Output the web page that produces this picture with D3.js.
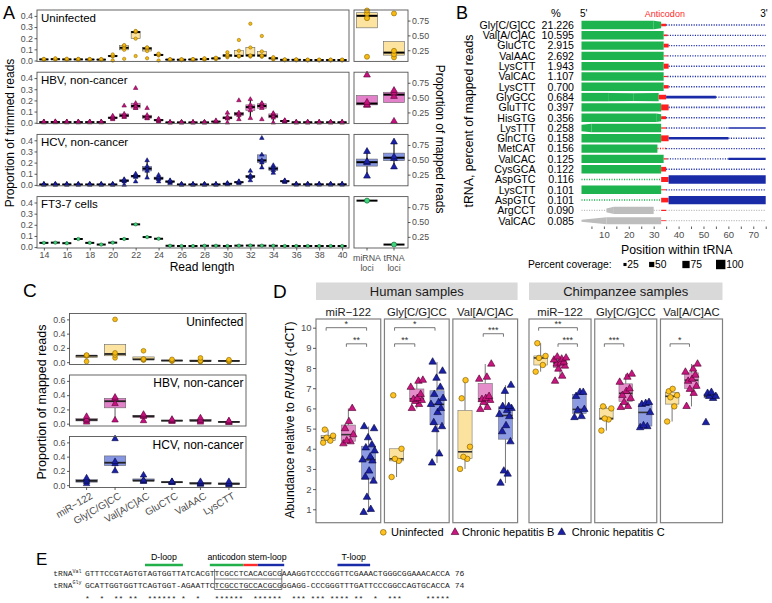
<!DOCTYPE html>
<html>
<head>
<meta charset="utf-8">
<script src="https://cdn.jsdelivr.net/npm/d3@7/dist/d3.min.js"></script>
<style>
html,body{margin:0;padding:0;background:#fff;}
svg{display:block;}
</style>
</head>
<body>
<svg id="fig" width="772" height="603"></svg>
<script>
// ================= DATA =================
// ---- Panel A ----
const readLengths=[14,15,16,17,18,19,20,21,22,23,24,25,26,27,28,29,30,31,32,33,34,35,36,37,38,39,40];
const readTicks=[14,16,18,20,22,24,26,28,30,32,34,36,38,40];
const propTicksA=[0,0.1,0.2,0.3,0.4];
const lociTicks=[0.25,0.5,0.75];
const lociCats=["miRNA loci","tRNA loci"];
const facetNamesA=["Uninfected","HBV, non-cancer","HCV, non-cancer","FT3-7 cells"];
const uninfA=[
[0.005,0.008,0.01,0.012,0.015],[0.006,0.01,0.012,0.015,0.02],[0.005,0.008,0.01,0.012,0.016],
[0.004,0.008,0.01,0.012,0.015],[0.004,0.007,0.009,0.011,0.014],[0.004,0.006,0.008,0.01,0.013],
[0.0,0.035,0.04,0.045,0.055],[0.015,0.096,0.114,0.135,0.138],[0.04,0.196,0.255,0.262,0.265],
[0.02,0.085,0.108,0.115,0.118],[0.0,0.045,0.05,0.055,0.062],[0.003,0.006,0.008,0.01,0.012],
[0.003,0.005,0.007,0.009,0.011],[0.004,0.007,0.009,0.011,0.013],[0.005,0.01,0.013,0.016,0.02],
[0.012,0.016,0.019,0.022,0.025],[0.028,0.038,0.045,0.052,0.074],[0.035,0.039,0.042,0.088,0.184],
[0.035,0.04,0.046,0.117,0.33],[0.033,0.038,0.045,0.082,0.22],[0.008,0.015,0.02,0.024,0.03],
[0.002,0.004,0.006,0.008,0.01],[0.002,0.004,0.006,0.008,0.01],[0.001,0.003,0.004,0.006,0.008],
[0.001,0.003,0.004,0.006,0.008],[0.001,0.003,0.004,0.006,0.008],[0.001,0.003,0.004,0.006,0.008]];
const hbvA=[
[0.002,0.004,0.005,0.007,0.01],[0.003,0.005,0.006,0.008,0.012],[0.002,0.004,0.005,0.007,0.01],
[0.002,0.004,0.005,0.007,0.01],[0.002,0.004,0.005,0.007,0.01],[0.002,0.004,0.005,0.007,0.01],
[0.03,0.038,0.044,0.05,0.062],[0.05,0.053,0.064,0.079,0.152],[0.13,0.132,0.15,0.175,0.31],
[0.038,0.04,0.053,0.067,0.13],[0.01,0.018,0.023,0.028,0.035],[0.001,0.002,0.003,0.004,0.006],
[0.001,0.002,0.003,0.004,0.006],[0.001,0.002,0.003,0.004,0.006],[0.001,0.002,0.003,0.004,0.006],
[0.004,0.007,0.01,0.013,0.02],[0.0,0.035,0.044,0.052,0.088],[0.03,0.065,0.08,0.09,0.2],
[0.04,0.11,0.14,0.16,0.21],[0.03,0.13,0.15,0.17,0.175],[0.0,0.044,0.058,0.079,0.085],
[0.005,0.01,0.015,0.018,0.022],[0.001,0.002,0.004,0.005,0.007],[0.001,0.002,0.004,0.005,0.007],
[0.001,0.002,0.004,0.005,0.007],[0.001,0.002,0.004,0.005,0.007],[0.001,0.002,0.004,0.005,0.007]];
const hcvA=[
[0.001,0.003,0.004,0.006,0.008],[0.001,0.003,0.004,0.006,0.008],[0.001,0.003,0.004,0.006,0.008],
[0.001,0.003,0.004,0.006,0.008],[0.001,0.003,0.004,0.006,0.008],[0.001,0.003,0.004,0.006,0.008],
[0.001,0.003,0.004,0.006,0.008],[0.0,0.03,0.038,0.045,0.05],[0.03,0.07,0.079,0.085,0.1],
[0.064,0.125,0.146,0.167,0.22],[0.03,0.05,0.059,0.07,0.088],[0.015,0.025,0.03,0.035,0.04],
[0.001,0.003,0.004,0.006,0.008],[0.001,0.003,0.004,0.006,0.008],[0.001,0.003,0.004,0.006,0.008],
[0.001,0.003,0.004,0.006,0.008],[0.004,0.008,0.01,0.013,0.016],[0.015,0.02,0.024,0.028,0.032],
[0.04,0.068,0.075,0.085,0.125],[0.155,0.2,0.22,0.27,0.42],[0.107,0.13,0.146,0.16,0.175],
[0.025,0.03,0.033,0.036,0.04],[0.002,0.004,0.005,0.007,0.009],[0.002,0.004,0.005,0.007,0.009],
[0.002,0.004,0.005,0.007,0.009],[0.002,0.004,0.005,0.007,0.009],[0.002,0.004,0.005,0.007,0.009]];
const ft37A=[0.038,0.04,0.035,0.073,0.038,0.023,0.04,0.073,0.204,0.09,0.075,0.012,0.01,0.01,0.012,0.012,0.01,0.013,0.014,0.013,0.012,0.01,0.01,0.01,0.01,0.01,0.01];
const uninfLoci=[[0.14,0.79,0.87,0.92],[0.13,0.18,0.24,0.87]];
const hbvLoci=[[0.37,0.38,0.42,0.88],[0.1,0.52,0.58,0.62]];
const hcvLoci=[[0.225,0.45,0.47,0.64],[0.38,0.52,0.55,0.8]];
const ft37Loci=[[0.86],[0.12]];

// ---- Panel B ----
const trnaNames=["Gly[C/G]CC","Val[A/C]AC","GluCTC","ValAAC","LysCTT","ValCAC","LysCTT","GlyGCC","GluTTC","HisGTG","LysTTT","GlnCTG","MetCAT","ValCAC","CysGCA","AspGTC","LysCTT","AspGTC","ArgCCT","ValCAC"];
const trnaPct=["21.226","10.595","2.915","2.692","1.943","1.107","0.700","0.684","0.397","0.356","0.258","0.158","0.156","0.125","0.122","0.116","0.101","0.101","0.090","0.085"];
// segments: [fromPos, toPos, coverageFrom(%), coverageTo(%), colourKey]
const trnaCoverage=[
[[1,30,100,100,"g"],[30,33,100,80,"g"],[33,35,30,30,"r"],[35,75,5,5,"b"]],
[[1,34,100,100,"g"],[34,35.5,20,20,"r"],[35.5,75,4,4,"b"]],
[[1,34,100,100,"g"],[34,36,45,45,"r"],[36,75,5,5,"b"]],
[[1,34,100,100,"g"],[34,35.5,12,12,"r"],[35.5,75,4,4,"b"]],
[[1,34,100,100,"g"],[34,36,60,60,"r"],[36,75,5,5,"b"]],
[[1,34,100,100,"g"],[34,35.5,15,15,"r"],[35.5,75,4,4,"b"]],
[[1,34,100,100,"g"],[34,36,40,40,"r"],[36,75,5,5,"b"]],
[[1,12,100,100,"g"],[12,22,100,90,"g"],[22,32,90,100,"g"],[32,35,55,55,"r"],[35,55,32,32,"b"],[55,75,5,5,"b"]],
[[1,33,100,100,"g"],[33,36,70,70,"r"],[36,75,8,8,"b"]],
[[1,31,100,100,"g"],[31,33,100,85,"g"],[33,35,35,35,"r"],[35,75,5,5,"b"]],
[[1,5,80,100,"g"],[5,33,100,100,"g"],[33,35,15,15,"r"],[35,60,5,5,"b"],[60,75,18,18,"b"]],
[[1,33,100,100,"g"],[33,36,70,70,"r"],[36,60,28,28,"b"],[60,75,5,5,"b"]],
[[1,31.5,100,100,"g"],[31.5,35,6,6,"r"],[35,75,5,5,"b"]],
[[1,34,100,100,"g"],[34,35.5,15,15,"r"],[35.5,60,5,5,"b"],[60,75,28,28,"b"]],
[[1,33,100,100,"g"],[33,35,55,55,"r"],[35,75,5,5,"b"]],
[[1,33,6,6,"g"],[33,36,60,60,"r"],[36,75,100,100,"b"]],
[[1,33,100,100,"g"],[33,35,12,12,"r"],[35,75,4,4,"b"]],
[[1,33,6,6,"g"],[33,36,55,55,"r"],[36,75,100,100,"b"]],
[[1,11,5,5,"k"],[11,14,45,85,"k"],[14,30,85,85,"k"],[30,33,5,5,"k"],[33,35,15,15,"r"],[35,75,4,4,"k"]],
[[1,11,25,85,"k"],[11,33,85,85,"k"],[33,35,10,10,"r"],[35,75,4,4,"k"]]];
const posTicks=[5,10,15,20,25,30,35,40,45,50,55,60,65,70,75];
const coverageLegend=[25,50,75,100];

// ---- Panel C ----
const cCats=["miR\u2212122","Gly[C/G]CC","Val[A/C]AC","GluCTC","ValAAC","LysCTT"];
const cTicks=[0,0.2,0.4,0.6];
const facetNamesC=["Uninfected","HBV, non-cancer","HCV, non-cancer"];
const uninfC=[[0.01,0.085,0.095,0.1],[0.06,0.1,0.13,0.6],[0.03,0.035,0.045,0.16],[0.015,0.02,0.025,0.04],[0.008,0.015,0.02,0.06],[0.008,0.015,0.02,0.035]];
const hbvC=[[0.02,0.045,0.06,0.1],[0.05,0.28,0.35,0.37],[0.04,0.1,0.11,0.13],[0.03,0.04,0.045,0.06],[0.02,0.04,0.05,0.08],[0.015,0.02,0.03,0.04]];
const hcvC=[[0.02,0.05,0.07,0.1],[0.2,0.3,0.33,0.65],[0.05,0.06,0.07,0.14],[0.035,0.04,0.045,0.05],[0.01,0.02,0.03,0.05],[0.005,0.015,0.025,0.05]];

// ---- Panel D ----
const dGroups=["Uninfected","Chronic hepatitis B","Chronic hepatitis C"];
const dStrips=["Human samples","Chimpanzee samples"];
const dTitles=["miR\u2212122","Gly[C/G]CC","Val[A/C]AC"];
const dTicks=[1,2,3,4,5,6,7,8,9,10];
const humanMir=[[4.3,4.4,4.55,4.65,4.95],[4.25,4.35,4.4,4.7,5.0,5.35,6.0],[0.85,1.0,1.6,2.4,2.6,2.9,3.4,3.45,3.6,3.9,4.05,4.2,4.55,5.0,5.1]];
const humanGly=[[2.6,3.4,3.5,4.0,6.65],[6.0,6.2,6.35,6.4,6.45,6.5,6.7,7.05,7.35,7.4],[3.3,3.75,4.95,5.1,5.3,5.8,6.0,6.2,6.3,6.5,6.7,7.05,7.5,7.85,8.3]];
const humanVal=[[3.0,3.5,3.6,4.1,6.5,7.4],[5.95,6.05,6.3,6.4,6.45,6.5,6.6,7.45,7.55,8.2],[2.3,2.75,2.9,4.35,4.85,5.15,5.6,5.7,5.9,6.0,6.1,6.1,6.85,7.15]];
const chimpMir=[[7.82,8.15,8.5,8.6,9.23],[7.35,7.6,7.95,8.1,8.2,8.25,8.3,8.4,8.45,8.5,8.55],[5.55,5.6,5.9,5.95,6.6,6.8,6.8]];
const chimpGly=[[4.9,5.45,5.5,6.0,6.1],[6.05,6.1,6.3,6.5,6.65,6.85,6.97,7.3,7.55,7.7],[5.05,5.1,5.15,5.8,6.2,6.25,6.3]];
const chimpVal=[[5.35,6.1,6.55,6.65,6.85,6.97],[6.1,6.75,6.95,7.1,7.35,7.45,7.65,7.8,7.95,8.2],[5.3,6.5,6.6,6.6,6.75,6.8]];
// significance: [subpanel, groupA, groupB, height, label]
const sigBrackets=[[0,0,2,10.0,"*"],[0,1,2,9.2,"**"],[1,0,2,10.0,"*"],[1,0,1,9.2,"**"],[2,1,2,9.7,"***"],
[3,0,2,10.0,"**"],[3,1,2,9.2,"***"],[4,0,1,9.2,"***"],[5,0,1,9.2,"*"]];

// ---- Panel E ----
const seqVal="GTTTCCGTAGTGTAGTGGTTATCACGTTCGCCTCACACGCGAAAGGTCCCCGGTTCGAAACTGGGCGGAAACACCA";
const seqGly="GCATTGGTGGTTCAGTGGT-AGAATTCTCGCCTGCCACGCGGGAGG-CCCGGGTTTGATTCCCGGCCAGTGCACCA";
const seqLens=[76,74];
const seqNames=["Val","Gly"];
// loop annotations: [label, [[fromPos,toPos,colourKey],...]]
const loops=[["D-loop",[[13.5,21.4,"g"]]],["anticodon stem-loop",[[27,34,"g"],[34,37,"r"],[37,42.5,"b"]]],["T-loop",[[53.6,60.4,"b"]]]];
const stemBox=[28,42];

// ================= RENDER =================
const FONT='"Liberation Sans", Arial, Helvetica, sans-serif';
const MONO='"Liberation Mono", "Courier New", monospace';
const svg=d3.select("#fig");
svg.append("rect").attr("width",772).attr("height",603).attr("fill","#fff");

function txt(g,x,y,s,o={}){
  const t=g.append("text").attr("x",x).attr("y",y).text(s)
    .attr("font-family",o.ff||FONT).attr("font-size",o.fs||11).attr("fill",o.fill||"#000");
  if(o.anchor)t.attr("text-anchor",o.anchor);
  return t;
}
function vtxt(g,x,y,s,rot,fs){
  return g.append("text").attr("transform",`translate(${x},${y}) rotate(${rot})`)
    .attr("text-anchor","middle").attr("dy","0.35em").attr("font-family",FONT).attr("font-size",fs).attr("fill","#000").text(s);
}
function boxStats(a){
  const s=a.slice().sort(d3.ascending);
  const q1=d3.quantile(s,.25),md=d3.quantile(s,.5),q3=d3.quantile(s,.75),iqr=q3-q1;
  const lo=d3.min(s.filter(v=>v>=q1-1.5*iqr)),hi=d3.max(s.filter(v=>v<=q3+1.5*iqr));
  return {q1,md,q3,lo,hi};
}
const jit=[-0.45,0.2,-0.15,0.45,-0.3,0.05,0.35,-0.55,0.15,0.55,-0.25,0.3,-0.05,0.5,-0.4];
function symPath(shape,size){
  const t=shape==="circle"?d3.symbolCircle:(shape==="square"?d3.symbolSquare:d3.symbolTriangle);
  return d3.symbol(t).size(size)();
}
function drawBoxes(g,xs,y,groups,bw,st,o){
  groups.forEach((vals,i)=>{
    const b=boxStats(vals),cx=xs[i];
    if(b.hi>b.q3) g.append("line").attr("x1",cx).attr("x2",cx).attr("y1",y(b.q3)).attr("y2",y(b.hi)).attr("stroke",o.wc).attr("stroke-width",o.ww);
    if(b.lo<b.q1) g.append("line").attr("x1",cx).attr("x2",cx).attr("y1",y(b.q1)).attr("y2",y(b.lo)).attr("stroke",o.wc).attr("stroke-width",o.ww);
    if(b.q3>b.q1) g.append("rect").attr("x",cx-bw/2).attr("y",y(b.q3)).attr("width",bw).attr("height",y(b.q1)-y(b.q3))
      .attr("fill",st.fill).attr("fill-opacity",st.fo).attr("stroke",o.bc).attr("stroke-width",o.bw);
    g.append("line").attr("x1",cx-bw/2).attr("x2",cx+bw/2).attr("y1",y(b.md)).attr("y2",y(b.md)).attr("stroke",o.mc).attr("stroke-width",o.mw);
    vals.forEach((v,j)=>{
      const jx=o.jitter?jit[(j+i*4)%jit.length]*o.jitter:0;
      g.append("path").attr("d",symPath(st.shape,o.ps)).attr("transform",`translate(${cx+jx},${y(v)})`)
        .attr("fill",st.pf).attr("stroke",st.ps).attr("stroke-width",o.psw);
    });
  });
}
function styleAxis(ax,fs){
  ax.attr("font-family",null).attr("font-size",null);
  ax.select(".domain").remove();
  ax.selectAll(".tick line").attr("stroke","#333").attr("stroke-width",0.8);
  ax.selectAll(".tick text").attr("fill","#4d4d4d").attr("font-family",FONT).attr("font-size",fs);
}
const stU={fill:"#FCE29A",fo:0.95,shape:"circle",pf:"#F6B90F",ps:"#8a6500"};
const stB={fill:"#E07AC6",fo:0.95,shape:"triangle",pf:"#C5107E",ps:"#5a0035"};
const stC={fill:"#8090E2",fo:0.95,shape:"triangle",pf:"#1B20A8",ps:"#070a45"};
const stF={fill:"#fff",fo:1,shape:"circle",pf:"#3FD67E",ps:"#0e5a2b"};

// ---------- Panel A ----------
const gA=svg.append("g");
txt(gA,3,18.5,"A",{fs:18});
const aTops=[10,72.2,134.4,196.6],aH=51.4,aL=37,aR=349,rL=354,rR=408;
const xA=d3.scaleLinear().domain([13.4,40.6]).range([aL,aR]);
const xLoci=d3.scalePoint().domain(lociCats).range([367,394]);
const facA=[[uninfA,uninfLoci,stU],[hbvA,hbvLoci,stB],[hcvA,hcvLoci,stC],[ft37A.map(v=>[v]),ft37Loci,stF]];
const optA={wc:"#000",ww:1.1,bc:"#666",bw:0.6,mc:"#000",mw:2,ps:9,psw:0.5};
const optAR={wc:"#000",ww:1.1,bc:"#666",bw:0.6,mc:"#000",mw:2,ps:20,psw:0.6};
facA.forEach((f,fi)=>{
  const top=aTops[fi];
  const y=d3.scaleLinear().domain([-0.008,0.453]).range([top+aH,top]);
  const yr=d3.scaleLinear().domain([0.062,0.928]).range([top+aH,top]);
  drawBoxes(gA,readLengths.map(xA),y,f[0],9,f[2],optA);
  drawBoxes(gA,lociCats.map(c=>xLoci(c)),yr,f[1],21,f[2],optAR);
  gA.append("rect").attr("x",aL).attr("y",top).attr("width",aR-aL).attr("height",aH).attr("fill","none").attr("stroke","#555").attr("stroke-width",0.9);
  gA.append("rect").attr("x",rL).attr("y",top).attr("width",rR-rL).attr("height",aH).attr("fill","none").attr("stroke","#555").attr("stroke-width",0.9);
  const axl=gA.append("g").attr("transform",`translate(${aL},0)`).call(d3.axisLeft(y).tickValues(propTicksA).tickFormat(d3.format(".1f")).tickSize(2.5).tickPadding(1.5));
  styleAxis(axl,8.8);
  const axr=gA.append("g").attr("transform",`translate(${rR},0)`).call(d3.axisRight(yr).tickValues(lociTicks).tickFormat(d3.format(".2f")).tickSize(2.5).tickPadding(1.5));
  styleAxis(axr,8.8);
  txt(gA,aL+4,top+11.5,facetNamesA[fi],{fs:11.5});
});
const axbA=gA.append("g").attr("transform",`translate(0,${aTops[3]+aH})`).call(d3.axisBottom(xA).tickValues(readTicks).tickSize(2.5).tickPadding(1.5));
styleAxis(axbA,8.8);
lociCats.forEach(c=>{
  const x=xLoci(c);
  gA.append("line").attr("x1",x).attr("x2",x).attr("y1",aTops[3]+aH).attr("y2",aTops[3]+aH+2.5).attr("stroke","#333").attr("stroke-width",0.8);
  const parts=c.split(" ");
  txt(gA,x,260.5,parts[0],{fs:8.8,anchor:"middle",fill:"#4d4d4d"});
  txt(gA,x,270.5,parts[1],{fs:8.8,anchor:"middle",fill:"#4d4d4d"});
});
txt(gA,202,271,"Read length",{fs:12,anchor:"middle"});
vtxt(gA,9.5,133,"Proportion of trimmed reads",-90,12);
vtxt(gA,440,139,"Proportion of mapped reads",90,12);

// ---------- Panel B ----------
const gB=svg.append("g");
txt(gB,456,18.5,"B",{fs:18});
const xB=d3.scaleLinear().domain([0,76]).range([579,768.2]);
const tB=d3.scaleLinear().domain([0,100]).range([0,8.4]);
const covCol={g:"#1DB34E",r:"#FF1F1F",b:"#1A2BA8",k:"#BDBDBD"};
const rowY=i=>25+i*10.3;
txt(gB,556,16.5,"%",{fs:11,anchor:"middle"});
txt(gB,580,16.5,"5'",{fs:10});
txt(gB,764,16.5,"3'",{fs:10,anchor:"middle"});
txt(gB,xB(34.5),16.5,"Anticodon",{fs:9,anchor:"middle",fill:"#FF2A2A"});
trnaNames.forEach((n,i)=>{
  const yc=rowY(i);
  txt(gB,535.5,yc+3.8,n,{fs:10.6,anchor:"end"});
  txt(gB,574,yc+3.8,trnaPct[i],{fs:10.6,anchor:"end"});
  trnaCoverage[i].forEach(([p0,p1,c0,c1,k])=>{
    const col=covCol[k];
    if(Math.max(c0,c1)<10){
      gB.append("line").attr("x1",xB(p0)).attr("x2",xB(p1)).attr("y1",yc).attr("y2",yc)
        .attr("stroke",col).attr("stroke-width",1+c0*0.08).attr("stroke-dasharray","1.1,1.4");
    }else{
      gB.append("path").attr("d",d3.area().x(d=>xB(d[0])).y0(d=>yc-tB(d[1])/2).y1(d=>yc+tB(d[1])/2)([[p0,c0],[p1,c1]])).attr("fill",col);
    }
  });
});
const axB=gB.append("g").attr("transform","translate(0,226.5)").call(d3.axisBottom(xB).tickValues(posTicks).tickSize(2.5).tickPadding(2).tickFormat(d=>d%10===0?d:""));
styleAxis(axB,9.5);
txt(gB,676.7,253.5,"Position within tRNA",{fs:12.3,anchor:"middle"});
vtxt(gB,469,121,"tRNA, percent of mapped reads",-90,12.3);
txt(gB,528,268,"Percent coverage:",{fs:10.3});
const legX=[625,651.7,686,720.7];
coverageLegend.forEach((c,i)=>{
  const s=1+tB(c);
  gB.append("rect").attr("x",legX[i]-s/2).attr("y",264.5-s/2).attr("width",s).attr("height",s).attr("fill","#000");
  txt(gB,legX[i]+s/2+0.8,268,String(c),{fs:10.3});
});

// ---------- Panel C ----------
const gC=svg.append("g");
txt(gC,23,297,"C",{fs:19});
const cL=69.5,cR=246,cTops=[313.5,375,436.5],cH=51;
const sC=(cR-cL)/6.2;
const xC=d3.scalePoint().domain(cCats).range([cL+0.6*sC,cR-0.6*sC]);
const facC=[[uninfC,stU],[hbvC,stB],[hcvC,stC]];
const optC={wc:"#333",ww:0.8,bc:"#666",bw:0.6,mc:"#222",mw:1.8,ps:18,psw:0.6};
facC.forEach((f,fi)=>{
  const top=cTops[fi];
  const y=d3.scaleLinear().domain([-0.0325,0.6825]).range([top+cH,top]);
  drawBoxes(gC,cCats.map(c=>xC(c)),y,f[0],0.75*sC,f[1],optC);
  gC.append("rect").attr("x",cL).attr("y",top).attr("width",cR-cL).attr("height",cH).attr("fill","none").attr("stroke","#555").attr("stroke-width",0.9);
  const ax=gC.append("g").attr("transform",`translate(${cL},0)`).call(d3.axisLeft(y).tickValues(cTicks).tickFormat(d3.format(".1f")).tickSize(2.5).tickPadding(1.5));
  styleAxis(ax,8.8);
  txt(gC,cR-2.5,top+12,facetNamesC[fi],{fs:12,anchor:"end"});
});
cCats.forEach(c=>{
  const x=xC(c),yb=cTops[2]+cH;
  gC.append("line").attr("x1",x).attr("x2",x).attr("y1",yb).attr("y2",yb+2.5).attr("stroke","#333").attr("stroke-width",0.8);
  gC.append("text").attr("transform",`translate(${x+3},${yb+4}) rotate(-30)`).attr("text-anchor","end").attr("dy","0.75em")
    .attr("font-family",FONT).attr("font-size",10).attr("fill","#4d4d4d").text(c);
});
vtxt(gC,42,402,"Proportion of mapped reads",-90,12.5);

// ---------- Panel D ----------
const gD=svg.append("g");
txt(gD,273,298,"D",{fs:19});
const dTop=319,dBot=522.7;
const yD=d3.scaleLinear().domain([0.336,10.43]).range([dBot,dTop]);
const stripSpans=[[316,517.6],[529,722.5]];
const gap=3.7;
const dPanels=[];
stripSpans.forEach((sp,si)=>{
  gD.append("rect").attr("x",sp[0]).attr("y",282.5).attr("width",sp[1]-sp[0]).attr("height",17.5).attr("fill","#D9D9D9");
  txt(gD,(sp[0]+sp[1])/2,296,dStrips[si],{fs:13,anchor:"middle",fill:"#1a1a1a"});
  const w=(sp[1]-sp[0]-2*gap)/3;
  for(let k=0;k<3;k++){dPanels.push([sp[0]+k*(w+gap),w,k]);}
});
const dData=[humanMir,humanGly,humanVal,chimpMir,chimpGly,chimpVal];
const dSt=[
 {fill:"#FBE19A",fo:0.95,shape:"circle",pf:"#FFC21F",ps:"#6e5200"},
 {fill:"#E486C8",fo:0.95,shape:"triangle",pf:"#C8157F",ps:"#4a002c"},
 {fill:"#8796E0",fo:0.95,shape:"triangle",pf:"#1B21A6",ps:"#05073a"}];
const optD={wc:"#555",ww:0.8,bc:"#777",bw:0.6,mc:"#333",mw:1.6,ps:24,psw:0.6,jitter:11};
dPanels.forEach(([x0,w,k],pi)=>{
  const s=w/3.2;
  const cx=dGroups.map((g,i)=>x0+s*(0.6+i));
  dData[pi].forEach((grp,gi)=>{
    drawBoxes(gD,[cx[gi]],yD,[grp],0.7*s,dSt[gi],optD);
  });
  gD.append("rect").attr("x",x0).attr("y",dTop).attr("width",w).attr("height",dBot-dTop).attr("fill","none").attr("stroke","#808080").attr("stroke-width",1.2);
  txt(gD,x0+w/2,316,dTitles[k],{fs:11.3,anchor:"middle",fill:"#1a1a1a"});
  sigBrackets.filter(b=>b[0]===pi).forEach(([p,a,b,h,lab])=>{
    const yb=yD(h),xa=cx[a]-2,xb=cx[b]-2;
    gD.append("path").attr("d",`M${xa},${yb+3}V${yb}H${xb}V${yb+3}`).attr("fill","none").attr("stroke","#555").attr("stroke-width",0.8);
    txt(gD,(xa+xb)/2,yb-0.5,lab,{fs:9,anchor:"middle",fill:"#333"});
  });
});
const axD=gD.append("g").attr("transform",`translate(316,0)`).call(d3.axisLeft(yD).tickValues(dTicks).tickSize(3).tickPadding(1.5));
styleAxis(axD,9.5);
const yt=gD.append("text").attr("transform","translate(290,420) rotate(-90)").attr("text-anchor","middle").attr("dy","0.35em")
  .attr("font-family",FONT).attr("font-size",12).attr("fill","#000");
yt.append("tspan").text("Abundance relative to ");
yt.append("tspan").attr("font-style","italic").text("RNU48");
yt.append("tspan").text(" (-dCT)");
const legPos=[[383.3,391],[455,462],[561.7,571.7]];
dGroups.forEach((gname,i)=>{
  gD.append("path").attr("d",symPath(dSt[i].shape,26)).attr("transform",`translate(${legPos[i][0]},532.3)`)
    .attr("fill",dSt[i].pf).attr("stroke",dSt[i].ps).attr("stroke-width",0.6);
  txt(gD,legPos[i][1],536.3,gname,{fs:11});
});

// ---------- Panel E ----------
const gE=svg.append("g");
txt(gE,36,565,"E",{fs:17});
const cw=4.8,sx=85;
const xS=p=>sx+(p-1)*cw;
const loopCol={g:"#22B04B",r:"#FF2A2A",b:"#1A2BA8"};
loops.forEach(([lab,segs])=>{
  const a=segs[0][0],b=segs[segs.length-1][1];
  txt(gE,(xS(a)+xS(b))/2,559.5,lab,{fs:8.8,anchor:"middle"});
  segs.forEach(([p0,p1,k])=>{
    gE.append("line").attr("x1",xS(p0)).attr("x2",xS(p1)).attr("y1",565).attr("y2",565).attr("stroke",loopCol[k]).attr("stroke-width",2.4);
  });
});
[seqVal,seqGly].forEach((s,i)=>{
  const yb=576+i*11.5;
  const t=gE.append("text").attr("x",53.3).attr("y",yb).attr("font-family",MONO).attr("font-size",8).attr("fill","#222");
  t.append("tspan").text("tRNA");
  t.append("tspan").attr("font-size",5).attr("dy",-3.2).text(seqNames[i]);
  txt(gE,sx,yb,s+" "+seqLens[i],{ff:MONO,fs:8,fill:"#222"});
});
const bx0=xS(stemBox[0]),bx1=xS(stemBox[1]);
gE.append("path").attr("d",`M${bx0},569V589.5H${bx1}V569`).attr("fill","none").attr("stroke","#444").attr("stroke-width",0.7);
gE.append("line").attr("x1",bx0).attr("x2",bx1).attr("y1",579).attr("y2",579).attr("stroke","#444").attr("stroke-width",0.7);
for(let i=0;i<seqVal.length;i++){
  if(seqVal[i]===seqGly[i]) txt(gE,xS(i+1),600.5,"*",{ff:MONO,fs:8,fill:"#222"});
}
</script>
</body>
</html>
